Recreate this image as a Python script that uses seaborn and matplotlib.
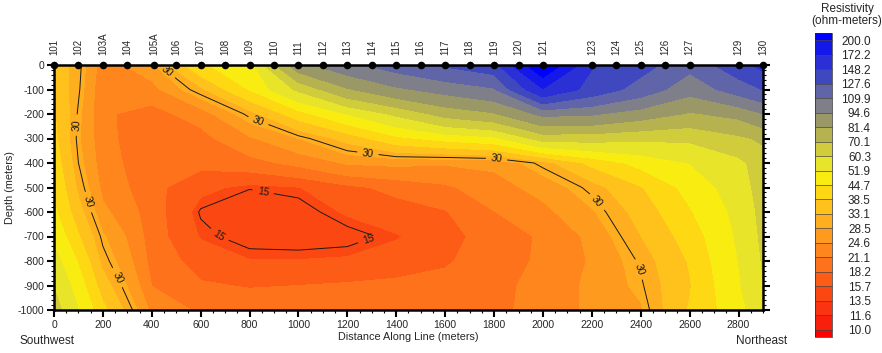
import numpy as np
import pandas as pd
import seaborn as sns
import matplotlib.pyplot as plt
from matplotlib.colors import ListedColormap, BoundaryNorm
from matplotlib.ticker import MultipleLocator

# grid: distance along line (m) and depth (m)
distance = [0, 100, 200, 400, 600, 800, 1000, 1200, 1400, 1600, 1800, 2000, 2200, 2400, 2600, 2800, 2900]
depth = [0, -100, -200, -300, -400, -500, -600, -700, -800, -900, -1000]

# resistivity in ohm-m, one row per depth (top row = surface)
resistivity = [
    [36, 31, 22.5, 27.5, 44, 48, 90, 105, 118, 130, 140, 230, 150, 135, 115, 140, 155],
    [37, 30.5, 21.5, 23, 32, 45, 62, 80, 92, 100, 108, 170, 140, 120, 100, 118, 128],
    [39, 29.5, 21.5, 20, 22.5, 31, 42, 52, 62, 74, 80, 98, 96, 88, 80, 85, 94],
    [40, 29, 22, 19, 20, 24, 28.5, 35, 43, 47, 50, 64, 64, 62, 62, 68, 72],
    [42, 30, 22.5, 19, 19, 20, 22, 25, 25.5, 25, 25.5, 31, 40, 47, 52, 58, 65],
    [44, 32, 23.5, 19, 16.3, 15.1, 15.6, 17.5, 19, 20.5, 23, 26, 31, 38, 47, 56, 64],
    [46, 35, 25.5, 19.5, 14.8, 13.8, 14.2, 16, 17, 18, 21, 23.5, 28, 35, 44, 54, 63],
    [50, 39, 29, 19.5, 15.5, 14.2, 14.0, 14.3, 15.5, 17.2, 19.5, 21.5, 25.5, 33, 41, 53, 62],
    [55, 44, 31.5, 20, 17, 15.8, 15.8, 16, 16.8, 17.8, 20, 21.5, 25, 30.5, 39, 52, 61],
    [60, 48, 35.5, 21, 18.5, 18, 18.2, 18.5, 18.8, 19.2, 20.3, 22, 25.5, 29.5, 38, 51, 60],
    [64, 52, 40, 23.5, 20.5, 19.8, 19.5, 19.5, 19.5, 20, 20.5, 22, 25.5, 28, 39, 49, 58],
]

# colour scale levels (ohm-m)
levels = [10.0, 11.6, 13.5, 15.7, 18.2, 21.1, 24.6, 28.5, 33.1, 38.5, 44.7,
          51.9, 60.3, 70.1, 81.4, 94.6, 109.9, 127.6, 148.2, 172.2, 200.0]
band_colors = ['#f8200c', '#fa3410', '#fb4812', '#fc5c16', '#fd721a', '#fe861c',
               '#fe9a1e', '#ffae20', '#ffc21c', '#ffd814', '#f8ec10', '#e8e42a',
               '#d0cc3c', '#b6b250', '#9a9866', '#7e7f88', '#5f65a8', '#4048c0',
               '#2a30d6', '#1418ea']

# stations along the top
stations = ['101', '102', '103A', '104', '105A', '106', '107', '108', '109', '110',
            '111', '112', '113', '114', '115', '116', '117', '118', '119', '120',
            '121', '123', '124', '125', '126', '127', '129', '130']
station_x = [0, 100, 200, 300, 410, 500, 600, 700, 800, 900, 1000, 1100, 1200, 1300,
             1400, 1500, 1600, 1700, 1800, 1900, 2000, 2200, 2300, 2400, 2500, 2600,
             2800, 2900]

contour_levels = [15, 30]
# where the contour labels sit
label_pos = [(94, -245), (143, -559), (257, -869), (454, -33), (834, -233),
             (1284, -360), (1811, -375), (2220, -560), (2408, -829),
             (855, -518), (670, -702), (1284, -706)]

sns.set_theme(style="ticks")
plt.rcParams['font.family'] = ['Liberation Sans', 'DejaVu Sans']
plt.rcParams['axes.unicode_minus'] = False

fig = plt.figure(figsize=(8.82, 3.53), dpi=100)
ax = fig.add_axes([54/882, 1-310/353, (763-54)/882, (310-65)/353])
cax = fig.add_axes([815/882, 1-337/353, 17/882, 304/353])

cmap = ListedColormap(band_colors)
cmap.set_under('#ff0000')
cmap.set_over('#0000ff')
norm = BoundaryNorm(levels, cmap.N)

X, Y = np.meshgrid(distance, depth)
Z = np.array(resistivity)
cf = ax.contourf(X, Y, Z, levels=levels, cmap=cmap, norm=norm, extend='both')
cl = ax.contour(X, Y, Z, levels=contour_levels, colors='#1a1a1a', linewidths=0.7)
ax.clabel(cl, fmt='%d', fontsize=7.5, manual=label_pos, inline=True)

# station markers
sns.scatterplot(x=station_x, y=[0]*len(station_x), color='black', s=30, ax=ax,
                clip_on=False, zorder=6, linewidth=0, legend=False)
for sx, st in zip(station_x, stations):
    ax.annotate(st, xy=(sx, 0), xytext=(0, 7), textcoords='offset points',
                rotation=90, ha='center', va='bottom', fontsize=7,
                annotation_clip=False)

ax.set_xlim(0, 2900)
ax.set_ylim(-1000, 0)
ax.set_xticks(np.arange(0, 2801, 200))
ax.xaxis.set_minor_locator(MultipleLocator(50))
ax.set_yticks(np.arange(-1000, 1, 100))
ax.yaxis.set_minor_locator(MultipleLocator(20))
ax.tick_params(which='major', direction='out', length=5, width=1.5, labelsize=7.5,
               color='black', pad=2)
ax.tick_params(which='minor', direction='out', length=2.5, width=0.8, color='black')
ax.tick_params(axis='y', which='both', left=True, right=True)
ax.tick_params(axis='x', which='both', bottom=True, top=False)
for s in ax.spines.values():
    s.set_linewidth(1.8)
    s.set_color('black')

ax.set_xlabel('Distance Along Line (meters)', fontsize=7.8, labelpad=2)
ax.set_ylabel('Depth (meters)', fontsize=7.8, labelpad=2)
fig.text(19/882, 1-341/353, 'Southwest', ha='left', va='center', fontsize=8.5)
fig.text(787/882, 1-341/353, 'Northeast', ha='right', va='center', fontsize=8.5)

cb = fig.colorbar(cf, cax=cax, ticks=levels, extendrect=True, extendfrac=0.025,
                  drawedges=True)
cb.ax.set_yticklabels([f'{v:.1f}' for v in levels])
cb.ax.tick_params(length=0, labelsize=8.5, pad=28)
plt.setp(cb.ax.get_yticklabels(), ha='right')
cb.outline.set_linewidth(0.5)
cb.dividers.set_color('#444444')
cb.dividers.set_linewidth(0.5)
fig.text(847/882, 1-15/353, 'Resistivity\n(ohm-meters)', ha='center', va='center',
         fontsize=8.5, linespacing=1.0)

fig.savefig('out.png', dpi=100)
